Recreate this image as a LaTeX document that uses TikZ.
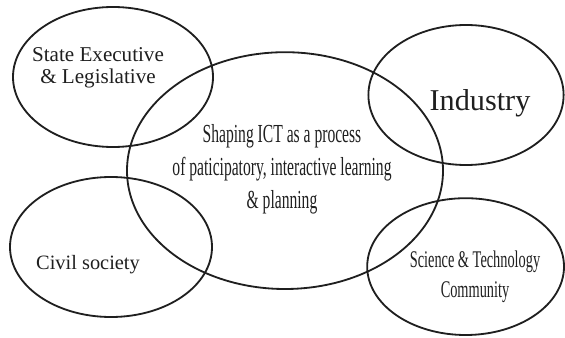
\documentclass[tikz,border=0pt]{standalone}
\usepackage{fontspec}
\setmainfont{Liberation Serif}
\newfontfamily\etroite[FakeStretch=0.6]{Liberation Serif}

\begin{document}
\begin{tikzpicture}[
    bord/.style={line width=1.3pt, black!88},
    texte/.style={align=center, inner sep=0pt, text=black!88}
]
    \useasboundingbox (0,0) rectangle (14.125,8.425);

    % Ellipses
    \draw[bord] (2.825,6.5) ellipse (2.5 and 1.75);
    \draw[bord] (2.775,2.25) ellipse (2.525 and 1.75);
    \draw[bord] (7.125,4.16) ellipse (3.95 and 2.96);
    \draw[bord] (11.65,6.05) ellipse (2.44 and 1.75);
    \draw[bord] (11.64,1.76) ellipse (2.46 and 1.71);

    % Acteurs
    \node[texte, font=\fontsize{15}{16}\selectfont] (etat) at (2.45,6.73)
        {State Executive\\\& Legislative};
    \node[texte, font=\fontsize{14.5}{16}\selectfont] (civil) at (2.2,1.8)
        {Civil society};
    \node[texte, font=\fontsize{21.5}{24}\selectfont] (industrie) at (12.0,5.85)
        {Industry};
    \node[texte, font=\etroite\fontsize{17}{21.3}\selectfont] (science) at (11.875,1.5)
        {Science \& Technology\\Community};

    % Centre
    \node[texte, font=\etroite\fontsize{18.5}{23.5}\selectfont] (centre) at (7.05,4.2)
        {Shaping ICT as a process\\of paticipatory, interactive learning\\\& planning};
\end{tikzpicture}
\end{document}
